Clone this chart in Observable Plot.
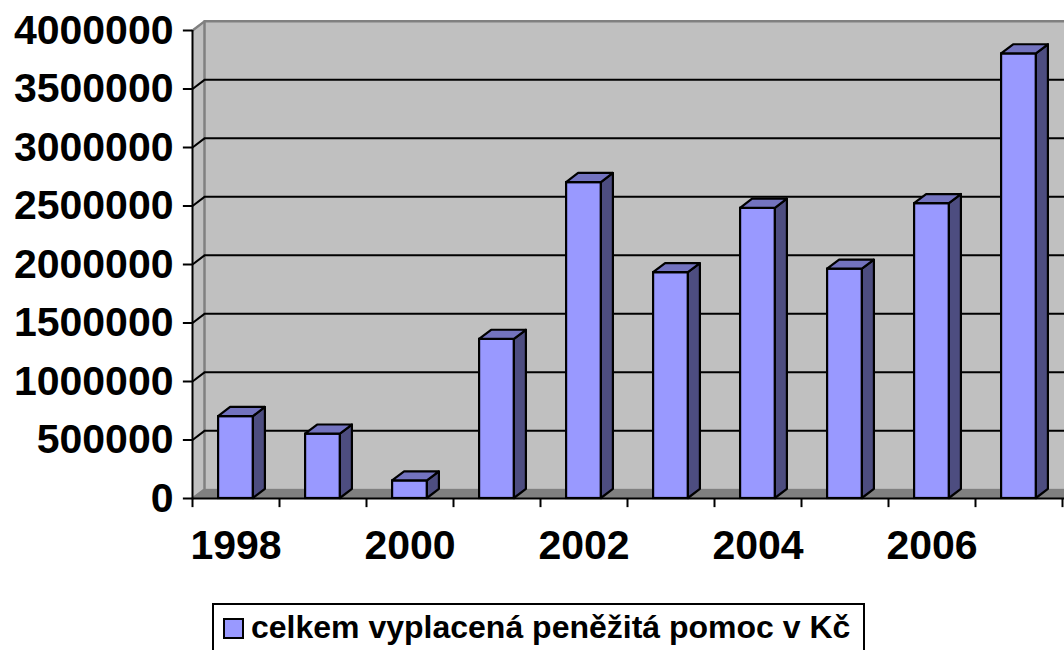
<!DOCTYPE html>
<html>
<head>
<meta charset="utf-8">
<script src="https://cdn.jsdelivr.net/npm/d3@7"></script>
<script src="https://cdn.jsdelivr.net/npm/@observablehq/plot@0.6"></script>
<style>
  body { margin: 0; background: #ffffff; font-family: "Liberation Sans", Arial, sans-serif; }
  #wrap { position: relative; width: 1064px; height: 650px; overflow: hidden; }
  #legend {
    position: absolute; left: 212px; top: 603px; width: 653px; height: 60px;
    border: 2px solid #000; box-sizing: border-box; background: #fff;
    font-weight: bold; font-size: 32px; color: #000;
  }
  #legend .sw { position: absolute; left: 9px; top: 13px; width: 17px; height: 17px; background: #9999FF; border: 2px solid #000; }
  #legend .lb { position: absolute; left: 37px; top: 5px; white-space: nowrap; line-height: 34px; }
</style>
</head>
<body>
<div id="wrap">
  <div id="chart"></div>
  <div id="legend"><div class="sw"></div><div class="lb" id="lbtext"></div></div>
</div>
<script>
// ---- data ----
const years = [1998, 1999, 2000, 2001, 2002, 2003, 2004, 2005, 2006, 2007];
const values = [700000, 550000, 150000, 1360000, 2700000, 1930000, 2480000, 1960000, 2520000, 3800000];
const yTicks = [0, 500000, 1000000, 1500000, 2000000, 2500000, 3000000, 3500000, 4000000];
const xLabelYears = [1998, 2000, 2002, 2004, 2006];
const seriesName = "celkem vyplacená peněžitá pomoc v Kč";

// ---- 3D depth (in data units) ----
const X0 = 1997.5, X1 = 2008.2;     // x extent of the floor / wall
const DX = 0.138;                   // depth offset along x (years)
const DY = 78000;                   // depth offset along y (value units)
const HW = 0.2;                     // half bar width (years)

const bars = years.map((yr, i) => ({yr, v: values[i]}));
const sideFaces = bars.flatMap(b => [
  {z: b.yr, x: b.yr + HW, y1: 0, y2: b.v},
  {z: b.yr, x: b.yr + HW + DX, y1: DY, y2: b.v + DY}
]);
const topFaces = bars.flatMap(b => [
  {z: b.yr, y: b.v, x1: b.yr - HW, x2: b.yr + HW},
  {z: b.yr, y: b.v + DY, x1: b.yr - HW + DX, x2: b.yr + HW + DX}
]);
const leftWall = [
  {x: X0, y1: 0, y2: 4000000},
  {x: X0 + DX, y1: DY, y2: 4000000 + DY}
];
const floor = [
  {y: 0, x1: X0, x2: X1},
  {y: DY, x1: X0 + DX, x2: X1 + DX}
];
const boundaries = d3.range(X0, 2008, 1);
const gridTicks = yTicks.filter(t => t > 0 && t < 4000000);

const font = "'Liberation Sans', Arial, sans-serif";

const chart = Plot.plot({
  width: 1064,
  height: 600,
  marginLeft: 192,
  marginRight: 2,
  marginTop: 30,
  marginBottom: 102,
  style: {fontFamily: font, background: "white", overflow: "visible"},
  x: {type: "linear", domain: [1997.5, 2007.5], axis: null},
  y: {domain: [0, 4000000], axis: null},
  marks: [
    // back wall
    Plot.rect([0], {x1: X0 + DX, x2: X1 + DX, y1: DY, y2: 4000000 + DY, fill: "#C0C0C0"}),
    // left side wall
    Plot.areaY(leftWall, {x: "x", y1: "y1", y2: "y2", fill: "#C0C0C0"}),
    // floor
    Plot.areaX(floor, {y: "y", x1: "x1", x2: "x2", fill: "#808080"}),
    // wall border (gray)
    Plot.line([{x: X0, y: 4000000}, {x: X0 + DX, y: 4000000 + DY}, {x: X1 + DX, y: 4000000 + DY}],
      {x: "x", y: "y", stroke: "#808080", strokeWidth: 2.5}),
    Plot.line([{x: X0 + DX, y: 4000000 + DY}, {x: X0 + DX, y: DY}, {x: X0, y: 0}],
      {x: "x", y: "y", stroke: "#808080", strokeWidth: 2.5}),
    // gridlines on back wall
    Plot.ruleY(gridTicks, {y: d => d + DY, x1: X0 + DX, x2: X1 + DX, stroke: "#000", strokeWidth: 2}),
    // diagonal connectors on side wall
    Plot.link(gridTicks, {x1: X0, y1: d => d, x2: X0 + DX, y2: d => d + DY, stroke: "#000", strokeWidth: 2}),
    // bars: front, side, top
    Plot.rect(bars, {x1: d => d.yr - HW, x2: d => d.yr + HW, y1: 0, y2: "v", fill: "#9999FF", stroke: "#000", strokeWidth: 2.2}),
    Plot.areaY(sideFaces, {x: "x", y1: "y1", y2: "y2", z: "z", fill: "#4D4D80", stroke: "#000", strokeWidth: 2.2, strokeLinejoin: "round"}),
    Plot.areaX(topFaces, {y: "y", x1: "x1", x2: "x2", z: "z", fill: "#7373BF", stroke: "#000", strokeWidth: 2.2, strokeLinejoin: "round"}),
    // x axis
    Plot.ruleY([0], {x1: X0, x2: X1, stroke: "#000", strokeWidth: 2}),
    Plot.ruleX(boundaries, {x: d => d, y1: 0, y2: -78000, stroke: "#000", strokeWidth: 2}),
    Plot.text(xLabelYears, {x: d => d, y: 0, dy: 47, text: d => String(d), fontSize: 41, fontWeight: "bold", fill: "#000", textAnchor: "middle"}),
    // y axis
    Plot.ruleX([X0], {y1: 0, y2: 4000000, stroke: "#000", strokeWidth: 2}),
    Plot.ruleY(yTicks, {y: d => d, x1: X0 - 0.105, x2: X0, stroke: "#000", strokeWidth: 2}),
    Plot.text(yTicks, {x: X0, y: d => d, dx: -19, text: d => String(d), fontSize: 41, fontWeight: "bold", fill: "#000", textAnchor: "end"})
  ]
});
document.getElementById("chart").appendChild(chart);
document.getElementById("lbtext").textContent = seriesName;
</script>
</body>
</html>
